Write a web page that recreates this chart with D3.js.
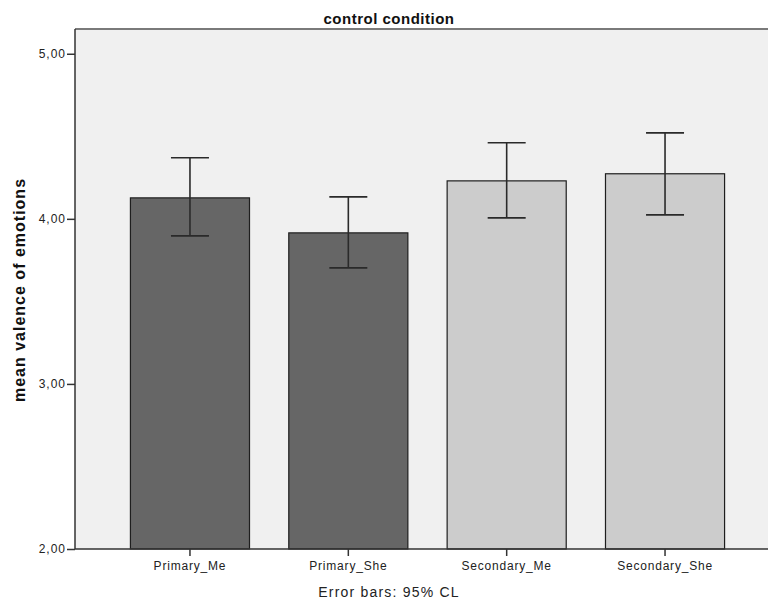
<!DOCTYPE html>
<html>
<head>
<meta charset="utf-8">
<script src="https://cdn.jsdelivr.net/npm/d3@7"></script>
<style>
  body { margin: 0; background: #fff; }
  text { font-family: "Liberation Sans", Arial, sans-serif; }
</style>
</head>
<body>
<svg id="chart" width="768" height="603"></svg>
<script>
const categories = ["Primary_Me", "Primary_She", "Secondary_Me", "Secondary_She"];
const means = [4.127, 3.915, 4.230, 4.273];
const ciLow = [3.897, 3.703, 4.006, 4.024];
const ciHigh = [4.370, 4.133, 4.461, 4.521];
const barColors = ["#666666", "#666666", "#cccccc", "#cccccc"];
const yTicks = [2, 3, 4, 5];

const svg = d3.select("#chart");

const plotLeft = 75, plotRight = 780, plotTop = 29, plotBottom = 549;

const x = d3.scaleBand()
  .domain(categories)
  .range([plotLeft, plotRight])
  .paddingInner(0.248)
  .paddingOuter(0.35);

const y = d3.scaleLinear()
  .domain([2, 5.15])
  .range([plotBottom, plotTop]);

// plot background
svg.append("rect")
  .attr("x", plotLeft)
  .attr("y", plotTop)
  .attr("width", plotRight - plotLeft)
  .attr("height", plotBottom - plotTop)
  .attr("fill", "#f0f0f0");

// top frame line
svg.append("line")
  .attr("x1", plotLeft).attr("x2", plotRight)
  .attr("y1", plotTop).attr("y2", plotTop)
  .attr("stroke", "#7a7a7a")
  .attr("stroke-width", 2);

let data = categories.map((c, i) => ({
  name: c, mean: means[i], lo: ciLow[i], hi: ciHigh[i], color: barColors[i]
}));

svg.selectAll(".bar")
  .data(data)
  .enter()
  .append("rect")
  .attr("class", "bar")
  .attr("x", (d) => x(d.name))
  .attr("y", (d) => y(d.mean))
  .attr("width", x.bandwidth())
  .attr("height", (d) => y(2) - y(d.mean))
  .attr("fill", (d) => d.color)
  .attr("stroke", "#1e1e1e")
  .attr("stroke-width", 1.2);

// error bars
let err = svg.selectAll(".err")
  .data(data)
  .enter()
  .append("g")
  .attr("class", "err")
  .attr("stroke", "#2a2a2a")
  .attr("stroke-width", 1.6);

let cx = (d) => x(d.name) + x.bandwidth() / 2;
let capW = 19;

err.append("line")
  .attr("x1", cx).attr("x2", cx)
  .attr("y1", (d) => y(d.hi)).attr("y2", (d) => y(d.lo));
err.append("line")
  .attr("x1", (d) => cx(d) - capW).attr("x2", (d) => cx(d) + capW)
  .attr("y1", (d) => y(d.hi)).attr("y2", (d) => y(d.hi));
err.append("line")
  .attr("x1", (d) => cx(d) - capW).attr("x2", (d) => cx(d) + capW)
  .attr("y1", (d) => y(d.lo)).attr("y2", (d) => y(d.lo));

// y axis
let yAxis = svg.append("g")
  .attr("transform", `translate(${plotLeft},0)`)
  .call(d3.axisLeft(y)
    .tickValues(yTicks)
    .tickSize(8)
    .tickPadding(1)
    .tickFormat((d) => d3.format(".2f")(d).replace(".", ",")));
yAxis.select(".domain").attr("stroke", "#333").attr("stroke-width", 1.5).attr("d", `M0,${plotTop}V${plotBottom}`);
yAxis.selectAll(".tick line").attr("stroke", "#333").attr("stroke-width", 1.5);
yAxis.selectAll(".tick text")
  .attr("font-size", 12)
  .attr("letter-spacing", 1)
  .attr("fill", "#222")
  .style("font-family", "'Liberation Sans', Arial, sans-serif");

// x axis
let xAxis = svg.append("g")
  .attr("transform", `translate(0,${plotBottom})`)
  .call(d3.axisBottom(x).tickSize(7).tickPadding(5));
xAxis.select(".domain").attr("stroke", "#333").attr("stroke-width", 1.5).attr("d", `M${plotLeft},0H${plotRight}`);
xAxis.selectAll(".tick line").attr("stroke", "#333").attr("stroke-width", 1.5);
xAxis.selectAll(".tick text")
  .attr("font-size", 12)
  .attr("letter-spacing", 0.8)
  .attr("fill", "#222")
  .style("font-family", "'Liberation Sans', Arial, sans-serif");

// title
svg.append("text")
  .attr("x", 389)
  .attr("y", 24)
  .attr("text-anchor", "middle")
  .attr("font-size", 15)
  .attr("letter-spacing", 0.5)
  .attr("font-weight", "bold")
  .attr("fill", "#111")
  .text("control condition");

// y label
svg.append("text")
  .attr("transform", `translate(25,290) rotate(-90)`)
  .attr("text-anchor", "middle")
  .attr("font-size", 16)
  .attr("letter-spacing", 1)
  .attr("font-weight", "bold")
  .attr("fill", "#111")
  .text("mean valence of emotions");

// footnote
svg.append("text")
  .attr("x", 389)
  .attr("y", 597)
  .attr("text-anchor", "middle")
  .attr("font-size", 14)
  .attr("letter-spacing", 1.2)
  .attr("fill", "#222")
  .text("Error bars: 95% CL");
</script>
</body>
</html>
